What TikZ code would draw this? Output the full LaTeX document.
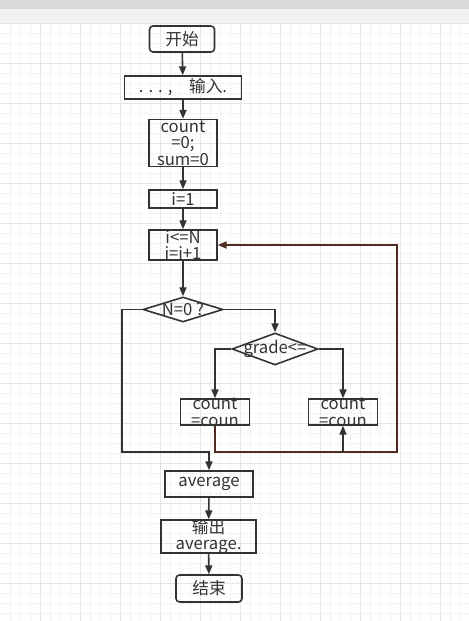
\documentclass[tikz,border=0pt]{standalone}
\usepackage{fontspec}
\setmainfont{Noto Sans CJK SC}
\usepackage{xcolor}
\definecolor{ink}{RGB}{51,51,51}
\definecolor{rust}{RGB}{78,44,36}
\definecolor{gridminor}{RGB}{243,243,243}
\definecolor{gridmajor}{RGB}{229,229,229}
\definecolor{barhead}{RGB}{218,218,218}
\definecolor{barbody}{RGB}{242,242,242}
\usepackage{tikz}
\usetikzlibrary{arrows.meta,shapes.geometric}
\tikzset{
  txt/.style={text=ink, inner sep=0pt, align=center, font=\fontsize{9.5}{9.5}\selectfont},
  box/.style={draw=ink, line width=0.9pt, inner sep=0pt, label={[txt]center:{#1}}},
  term/.style={box={#1}, rounded corners=2pt},
  dec/.style={box={#1}, diamond},
  flow/.style={draw=ink, line width=0.9pt, -{Triangle[length=5pt,width=4pt]}},
  back/.style={flow, draw=rust},
}

\begin{document}
\begin{tikzpicture}[x=0.02cm,y=-0.02cm]
\useasboundingbox (0,0) rectangle (469,621);
%% canvas: header bar and grid
\fill[white] (0,0) rectangle (469,621);
\fill[barbody] (0,0) rectangle (469,23);
\fill[barhead] (0,0) rectangle (469,9);
\foreach \x in {10,20,...,460} \draw[gridminor] (\x,23) -- (\x,621);
\foreach \y in {33,43,...,613} \draw[gridminor] (0,\y) -- (469,\y);
\foreach \x in {40,80,...,440} \draw[gridmajor] (\x,23) -- (\x,621);
\foreach \y in {23,63,...,583} \draw[gridmajor] (0,\y) -- (469,\y);

%% main column
\node[term={开始}, minimum width=1.30cm, minimum height=0.52cm] (start) at (182,39) {};
\node[box={. . . ,\quad 输入.}, minimum width=2.34cm, minimum height=0.46cm] (input) at (183,87.5) {};
\node[box={count\\=0;\\sum=0}, minimum width=1.36cm, minimum height=0.94cm] (init) at (183,143) {};
\node[box={i=1}, minimum width=1.36cm, minimum height=0.36cm] (one) at (183,199) {};
\node[box={i<=N\\i=i+1}, minimum width=1.36cm, minimum height=0.60cm] (loop) at (183,245) {};
\node[dec={N=0 ?}, minimum width=1.60cm, minimum height=0.50cm] (zero) at (183,309.5) {};
\node[dec={grade<=}, minimum width=1.72cm, minimum height=0.64cm] (grade) at (275,349) {};
\node[box={count\\=coun}, minimum width=1.38cm, minimum height=0.52cm] (cntL) at (215,412) {};
\node[box={count\\=coun}, minimum width=1.38cm, minimum height=0.52cm] (cntR) at (343,412) {};
\node[box={average}, minimum width=1.76cm, minimum height=0.52cm] (avg) at (209,484) {};
\node[box={输出\\average.}, minimum width=1.90cm, minimum height=0.66cm] (out) at (208.5,536.5) {};
\node[term={结束}, minimum width=1.32cm, minimum height=0.54cm] (stop) at (209,588.5) {};

\coordinate (join) at (122,452);
\coordinate (ret) at (397,452);

\draw[flow] (start) -- (input);
\draw[flow] (input) -- (init);
\draw[flow] (init) -- (one);
\draw[flow] (one) -- (loop);
\draw[flow] (loop) -- (zero);
\draw[flow] (zero.east) -| (grade.north);
\draw[flow] (zero.west) -| (join) -| (avg.north);
\draw[flow] (grade.west) -| (cntL.north);
\draw[flow] (grade.east) -| (cntR.north);
\draw[back] (cntL.south) |- (ret) |- (loop.east);
\draw[flow] (cntR.south |- ret) -- (cntR.south);
\draw[flow] (avg) -- (out);
\draw[flow] (out) -- (stop);
\end{tikzpicture}
\end{document}
